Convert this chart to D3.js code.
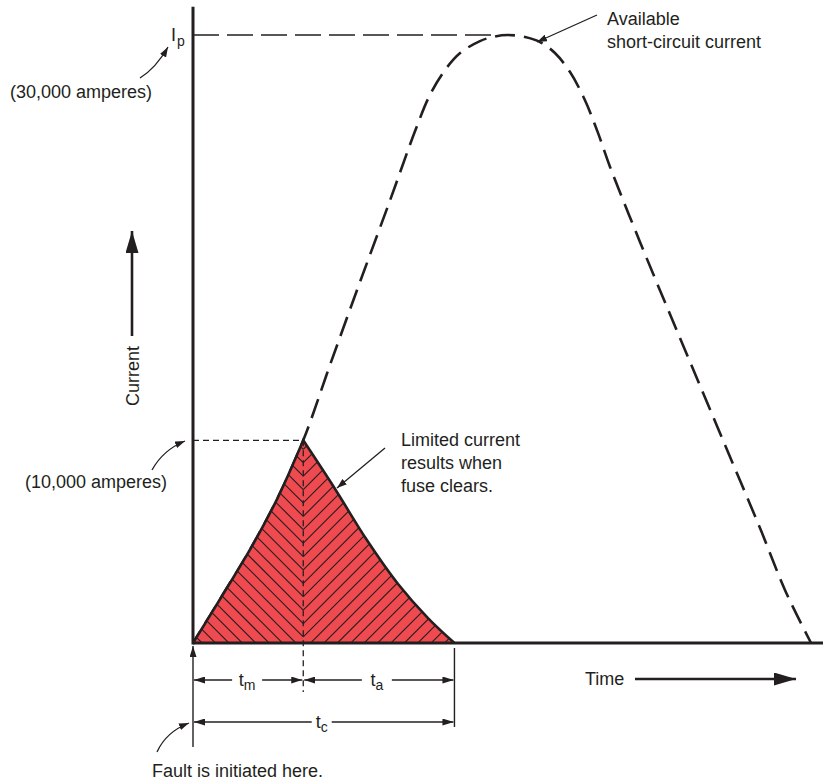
<!DOCTYPE html>
<html>
<head>
<meta charset="utf-8">
<script src="https://cdn.jsdelivr.net/npm/d3@7"></script>
<style>
  html, body { margin: 0; padding: 0; background: #fff; }
  svg { display: block; }
  text { font-family: "Liberation Sans", Arial, Helvetica, sans-serif; fill: #231f20; }
</style>
</head>
<body>
<svg id="chart" width="823" height="782"></svg>
<script>
// Available (prospective) short-circuit current, time in ms, current in amperes
const timeAvail = [0, 4.6, 9.2, 13.5, 17.5, 21.75, 26.5, 31.3, 35.25, 37.6, 40.0, 42.4, 45.55, 47.95, 50.0,
                   52.7, 55.1, 57.45, 59.85, 62.2, 64.3, 66.2, 70.95, 75.7, 80.5, 85.25, 90.0, 94.1, 98.1];
const currentAvail = [0, 2320, 4690, 7200, 10000, 13720, 17810, 21860, 25260, 27040, 28270, 29110, 29700, 29930, 30000,
                      29900, 29650, 29110, 28170, 26790, 25160, 23490, 19790, 16230, 12680, 9180, 5670, 2520, 0];

// Current let through by the fuse after melting, until it clears
const timeLimited = [17.5, 22.55, 27.6, 32.55, 37.3, 41.5];
const currentLimited = [10000, 7600, 5080, 2910, 1230, 0];

// Key instants: melting time and total clearing time
const meltTime = 17.5;
const clearTime = 41.5;

// Reference current levels
const peakCurrent = 30000;
const limitedPeak = 10000;
const axisTopCurrent = 31400;
const axisEndTime = 100;

const ink = "#231f20";
const svg = d3.select("#chart");

const x = d3.scaleLinear().domain([0, 100]).range([193, 823]);
const y = d3.scaleLinear().domain([0, 30000]).range([643, 35]);

const availPts = timeAvail.map((t, i) => [t, currentAvail[i]]);
const limitedPts = timeLimited.map((t, i) => [t, currentLimited[i]]);

// markers
const defs = svg.append("defs");
function marker(id, len, wid) {
  defs.append("marker")
    .attr("id", id)
    .attr("markerUnits", "userSpaceOnUse")
    .attr("markerWidth", len).attr("markerHeight", wid)
    .attr("refX", len).attr("refY", wid / 2)
    .attr("orient", "auto")
    .append("path")
    .attr("d", `M0,0 L${len},${wid / 2} L0,${wid} Z`)
    .attr("fill", ink);
}
marker("bigArrow", 22, 13);
marker("dimArrow", 11, 7);
marker("noteArrow", 10, 7);

const line = d3.line().x(d => x(d[0])).y(d => y(d[1])).curve(d3.curveCatmullRom.alpha(0.5));

const rise = availPts.filter(d => d[0] <= meltTime);
const riseD = line(rise);
const decayD = line(limitedPts);
// let-through region: rising edge then the decay back to zero
const areaPath = riseD + "L" + decayD.slice(1) + "Z";

// available current, dashed (the part under the region edge is covered)
svg.append("path")
  .attr("d", line(availPts))
  .attr("fill", "none")
  .attr("stroke", ink)
  .attr("stroke-width", 2.6)
  .attr("stroke-dasharray", "20 9")
  .attr("stroke-dashoffset", 6);

defs.append("clipPath").attr("id", "regionClip")
  .append("path").attr("d", areaPath);

svg.append("path")
  .attr("d", areaPath)
  .attr("fill", "#ee4a4f");

// chevron hatching inside the region
const hatch = svg.append("g").attr("clip-path", "url(#regionClip)")
  .attr("stroke", ink).attr("stroke-width", 1.1);
const xc = x(meltTime);
const yApex = y(limitedPeak);
for (let yk = yApex + 9; yk < y(0) + 160; yk += 13.4) {
  hatch.append("line").attr("x1", xc).attr("y1", yk).attr("x2", xc - 300).attr("y2", yk - 300);
  hatch.append("line").attr("x1", xc).attr("y1", yk).attr("x2", xc + 300).attr("y2", yk - 300);
}

// outline of the let-through region (no base edge)
svg.append("path")
  .attr("d", riseD + "L" + decayD.slice(1))
  .attr("fill", "none")
  .attr("stroke", ink)
  .attr("stroke-width", 2.6)
  .attr("stroke-linejoin", "miter");

// reference level lines
svg.append("line")
  .attr("x1", x(0)).attr("x2", x(48.5))
  .attr("y1", y(peakCurrent)).attr("y2", y(peakCurrent))
  .attr("stroke", ink).attr("stroke-width", 1.4)
  .attr("stroke-dasharray", "26 8");
svg.append("line")
  .attr("x1", x(0)).attr("x2", x(meltTime))
  .attr("y1", y(limitedPeak)).attr("y2", y(limitedPeak))
  .attr("stroke", ink).attr("stroke-width", 1.2)
  .attr("stroke-dasharray", "6 4");

// melting instant marker
svg.append("line")
  .attr("x1", xc).attr("x2", xc)
  .attr("y1", yApex).attr("y2", 692)
  .attr("stroke", ink).attr("stroke-width", 1.3)
  .attr("stroke-dasharray", "6 4");

// axes
svg.append("line")
  .attr("x1", x(0)).attr("x2", x(0))
  .attr("y1", y(axisTopCurrent)).attr("y2", y(0) + 1.5)
  .attr("stroke", ink).attr("stroke-width", 3);
svg.append("line")
  .attr("x1", x(0)).attr("x2", x(axisEndTime))
  .attr("y1", y(0)).attr("y2", y(0))
  .attr("stroke", ink).attr("stroke-width", 3);

// axis titles with arrows
svg.append("line")
  .attr("x1", 132).attr("x2", 132).attr("y1", 336).attr("y2", 231)
  .attr("stroke", ink).attr("stroke-width", 2.6)
  .attr("marker-end", "url(#bigArrow)");
svg.append("text")
  .attr("transform", "translate(139,376) rotate(-90)")
  .attr("text-anchor", "middle")
  .attr("font-size", 18)
  .text("Current");

svg.append("text").attr("x", 585).attr("y", 685).attr("font-size", 18).text("Time");
svg.append("line")
  .attr("x1", 635).attr("x2", 796).attr("y1", 679).attr("y2", 679)
  .attr("stroke", ink).attr("stroke-width", 2.6)
  .attr("marker-end", "url(#bigArrow)");

// dimension lines
const dimG = svg.append("g").attr("stroke", ink).attr("stroke-width", 1.4);
dimG.append("line").attr("x1", x(0)).attr("x2", x(0)).attr("y1", 747).attr("y2", y(0) + 3)
  .attr("marker-end", "url(#dimArrow)");
dimG.append("line").attr("x1", x(clearTime)).attr("x2", x(clearTime)).attr("y1", y(0) + 5).attr("y2", 727);

function dim(t0, t1, row, label, sub, gapHalf, shift) {
  const xa = x(t0), xb = x(t1), mid = (xa + xb) / 2 + shift;
  dimG.append("line").attr("x1", mid - gapHalf).attr("x2", xa + 1).attr("y1", row).attr("y2", row)
    .attr("marker-end", "url(#dimArrow)");
  dimG.append("line").attr("x1", mid + gapHalf).attr("x2", xb - 1).attr("y1", row).attr("y2", row)
    .attr("marker-end", "url(#dimArrow)");
  const t = svg.append("text").attr("x", mid).attr("y", row + 6)
    .attr("text-anchor", "middle").attr("font-size", 18);
  t.append("tspan").text(label);
  t.append("tspan").attr("font-size", 14).attr("dy", 4).text(sub);
}
dim(0, meltTime, 680, "t", "m", 15, -1);
dim(meltTime, clearTime, 680, "t", "a", 15, -2);
dim(0, clearTime, 722, "t", "c", 10, -2);

// annotations
const note = svg.append("g").attr("fill", "none").attr("stroke", ink).attr("stroke-width", 1.3);
note.append("path").attr("d", "M140,78 Q156,68 168,47").attr("marker-end", "url(#noteArrow)");
note.append("path").attr("d", "M152,470 Q163,450 185,441").attr("marker-end", "url(#noteArrow)");
note.append("path").attr("d", "M157,752 Q166,732 189,723").attr("marker-end", "url(#noteArrow)");
note.append("path").attr("d", "M385,448 L337,488").attr("marker-end", "url(#noteArrow)");
note.append("path").attr("d", "M597,15 L537,42").attr("marker-end", "url(#noteArrow)");

const ip = svg.append("text").attr("x", 171).attr("y", 41).attr("font-size", 18);
ip.append("tspan").text("I");
ip.append("tspan").attr("font-size", 14).attr("dx", 1).attr("dy", 5).text("p");

svg.append("text").attr("x", 10).attr("y", 98).attr("font-size", 18).text("(30,000 amperes)");
svg.append("text").attr("x", 25).attr("y", 488).attr("font-size", 18).text("(10,000 amperes)");

const avail = svg.append("text").attr("font-size", 18);
avail.append("tspan").attr("x", 607).attr("y", 25).text("Available");
avail.append("tspan").attr("x", 607).attr("y", 48).text("short-circuit current");

const lim = svg.append("text").attr("font-size", 18);
["Limited current", "results when", "fuse clears."].forEach((s, i) => {
  lim.append("tspan").attr("x", 401).attr("y", 446 + i * 23).text(s);
});

svg.append("text").attr("x", 152).attr("y", 777).attr("font-size", 18).text("Fault is initiated here.");
</script>
</body>
</html>
